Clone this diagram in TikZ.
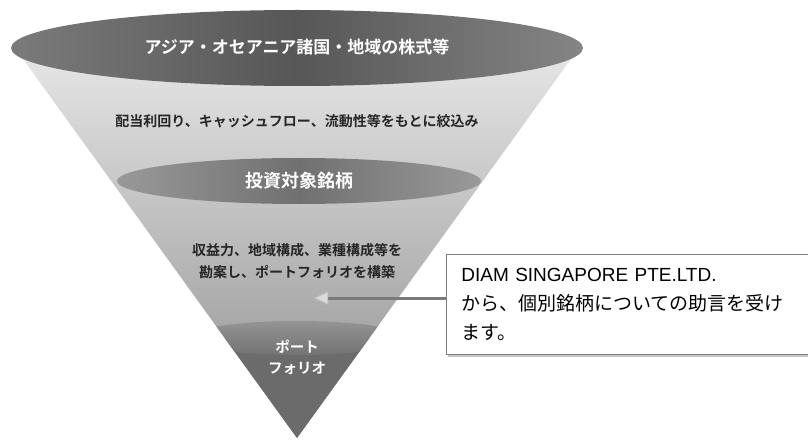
\documentclass[tikz,border=0pt]{standalone}
\usepackage{fontspec}
\newfontfamily\jp{Noto Sans CJK JP}[BoldFont={Noto Sans CJK JP Bold}]
\newfontfamily\lat{Liberation Sans}
\usetikzlibrary{shadows,arrows.meta}
\begin{document}
\begin{tikzpicture}[x=1pt,y=-1pt,
  wlbl/.style={font=\jp\bfseries, text=white, inner sep=0pt, align=center},
  dlbl/.style={font=\jp\bfseries, text=black!85, inner sep=0pt, align=center},
  callout/.style={draw=black!50, fill=white, line width=0.9pt,
    drop shadow={shadow xshift=2pt, shadow yshift=-2.5pt, opacity=0.45},
    anchor=north west, minimum height=100pt, text width=350pt,
    inner xsep=15pt, align=left, font=\jp\fontsize{19}{29}\selectfont}]
\useasboundingbox (0,0) rectangle (808,441);
\fill[white] (0,0) rectangle (808,441);
% funnel body
\shade[top color=black!10, bottom color=black!44] (18,52) -- (576,52) -- (297,438) -- cycle;
% bottom portfolio section
\begin{scope}
  \clip (18,52) -- (576,52) -- (297,438) -- cycle;
  \fill[black!58] (120,338) rectangle (480,441);
  \shade[top color=black!42, bottom color=black!55] (297,338) ellipse [x radius=110, y radius=17];
\end{scope}
% top ellipse
\shade[left color=black!52, right color=black!48, middle color=black!66] (297,48) ellipse [x radius=286, y radius=38];
% middle ellipse
\shade[left color=black!40, right color=black!40, middle color=black!56] (299,181) ellipse [x radius=182, y radius=23];
% labels
\node[wlbl, font=\jp\bfseries\fontsize{17}{20}\selectfont] (t1) at (297,47) {アジア・オセアニア諸国・地域の株式等};
\node[dlbl, font=\jp\bfseries\fontsize{14}{17}\selectfont] (t2) at (297,121) {配当利回り、キャッシュフロー、流動性等をもとに絞込み};
\node[wlbl, font=\jp\bfseries\fontsize{18}{21}\selectfont] (t3) at (299,181) {投資対象銘柄};
\node[dlbl, font=\jp\bfseries\fontsize{14}{22}\selectfont] (t4) at (297,261) {収益力、地域構成、業種構成等を\\勘案し、ポートフォリオを構築};
\node[wlbl, font=\jp\bfseries\fontsize{14.5}{21}\selectfont] (t5) at (297,357) {ポート\\フォリオ};
% callout
\node[callout] (box) at (446,254) {{\lat DIAM SINGAPORE PTE.LTD.}\\から、個別銘柄についての助言を受け\\ます。};
\coordinate (tip) at (314,298);
\draw[black!52, line width=3pt, -{Triangle[length=14pt,width=13pt,fill=black!14,color=black!22,line width=1pt]}] (box.west |- tip) -- (tip);
\end{tikzpicture}
\end{document}
